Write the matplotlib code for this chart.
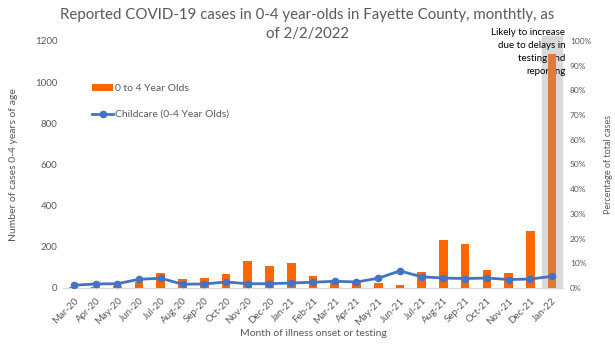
import matplotlib
matplotlib.use("Agg")
import matplotlib.pyplot as plt
import numpy as np

plt.rcParams['font.family'] = ['Lato', 'DejaVu Sans']

months = ['Mar-20', 'Apr-20', 'May-20', 'Jun-20', 'Jul-20', 'Aug-20', 'Sep-20', 'Oct-20',
          'Nov-20', 'Dec-20', 'Jan-21', 'Feb-21', 'Mar-21', 'Apr-21', 'May-21', 'Jun-21',
          'Jul-21', 'Aug-21', 'Sep-21', 'Oct-21', 'Nov-21', 'Dec-21', 'Jan-22']
cases = [5, 5, 10, 30, 73, 44, 48, 68, 131, 106, 121, 58, 30, 26, 24, 14,
         77, 232, 213, 89, 72, 276, 1135]
childcare_pct = [1.1, 1.6, 1.7, 3.5, 3.9, 1.5, 1.6, 2.4, 1.7, 1.7, 2.0, 2.3, 2.7, 2.4,
                 3.9, 6.9, 4.5, 4.0, 3.8, 4.0, 3.4, 3.6, 4.7]

grey = '#595959'
fig = plt.figure(figsize=(6.15, 3.49), dpi=100)
ax = fig.add_axes([0.1024, 0.175, 0.813, 0.708])
x = np.arange(len(months)) + 0.5

colors = ['#FF6600'] * (len(months) - 1) + ['#E0793A']
ax.axvspan(x[-1] - 0.46, x[-1] + 0.46, ymin=0, ymax=1.02, color='#D9D9D9', zorder=1, clip_on=False)
ax.bar(x, cases, width=0.4, color=colors, zorder=3, label='0 to 4 Year Olds')
ax.set_xlim(0, len(months))
ax.set_ylim(0, 1200)
ax.set_yticks(range(0, 1201, 200))
ax.set_xticks(x)
ax.set_xticklabels(months, rotation=45, ha='right', rotation_mode='anchor')
ax.tick_params(length=0, labelsize=7, colors=grey, pad=4)
ax.tick_params(axis='x', pad=6)
for s in ['top', 'right', 'left']:
    ax.spines[s].set_visible(False)
ax.spines['bottom'].set_color('#D9D9D9')
ax.set_ylabel('Number of cases 0-4 years of age', fontsize=7.5, color=grey, labelpad=12)
ax.set_xlabel('Month of illness onset or testing', fontsize=7.5, color=grey, labelpad=2)

# note over the last (incomplete) month
ax.text(x[-1] + 0.6, 1262, 'Likely to increase\ndue to delays in\ntesting and\nreporting',
        ha='right', va='top', fontsize=7, color='black', linespacing=1.55, zorder=2)

ax2 = ax.twinx()
ax2.plot(x, childcare_pct, color='#4472C4', lw=2, marker='o', ms=4.5,
         label='Childcare (0-4 Year Olds)')
ax2.set_ylim(0, 100)
ax2.set_yticks(range(0, 101, 10))
ax2.set_yticklabels([f'{v}%' for v in range(0, 101, 10)])
ax2.tick_params(length=0, labelsize=6, colors=grey, pad=5)
for s in ['top', 'right', 'left', 'bottom']:
    ax2.spines[s].set_visible(False)
ax2.set_ylabel('Percentage of total cases', fontsize=6.5, color=grey, labelpad=9)

h1, l1 = ax.get_legend_handles_labels()
h2, l2 = ax2.get_legend_handles_labels()
fig.legend(h1 + h2, l1 + l2, loc='upper left', bbox_to_anchor=(0.135, 0.785), frameon=False,
           fontsize=7.5, labelcolor=grey, handlelength=2.0, handleheight=0.6,
           handletextpad=0.2, labelspacing=1.6)

fig.text(0.5, 0.957, 'Reported COVID-19 cases in 0-4 year-olds in Fayette County, monthtly, as',
         ha='center', va='center', fontsize=10.8, color=grey)
fig.text(0.5, 0.903, 'of 2/2/2022', ha='center', va='center', fontsize=10.8, color=grey)

fig.savefig('out.png', dpi=100)
